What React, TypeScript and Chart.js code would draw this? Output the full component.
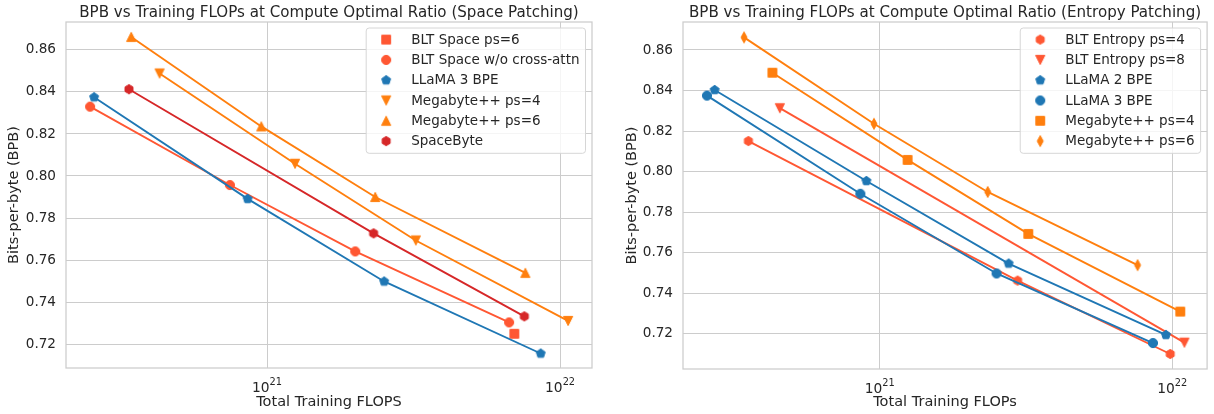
import React, { useEffect, useRef } from 'react';
import { Chart, registerables } from 'chart.js';

Chart.register(...registerables);

// ---------- data ----------
// Left panel: Space patching
const BLT_SPACE_PS6_X = [6.98e21];
const BLT_SPACE_PS6_Y = [0.7249];
const BLT_SPACE_NOCA_X = [2.49e20, 7.47e20, 2.0e21, 6.7e21];
const BLT_SPACE_NOCA_Y = [0.833, 0.7957, 0.7641, 0.7303];
const LLAMA3_X = [2.57e20, 8.59e20, 2.51e21, 8.59e21];
const LLAMA3_Y = [0.8375, 0.7891, 0.7498, 0.7155];
const MEGA_PS4_X = [4.3e20, 1.246e21, 3.22e21, 1.065e22];
const MEGA_PS4_Y = [0.8488, 0.8058, 0.7693, 0.731];
const MEGA_PS6_X = [3.44e20, 9.56e20, 2.34e21, 7.61e21];
const MEGA_PS6_Y = [0.8662, 0.8236, 0.79, 0.7539];
const SPACEBYTE_X = [3.38e20, 2.31e21, 7.55e21];
const SPACEBYTE_Y = [0.8413, 0.7727, 0.7332];

// Right panel: Entropy patching
const BLT_ENT_PS4_X = [3.56e20, 2.96e21, 9.84e21];
const BLT_ENT_PS4_Y = [0.8151, 0.7463, 0.7101];
const BLT_ENT_PS8_X = [4.56e20, 1.1e22];
const BLT_ENT_PS8_Y = [0.8313, 0.7157];
const LLAMA2_X = [2.73e20, 9.01e20, 2.76e21, 9.51e21];
const LLAMA2_Y = [0.8403, 0.7954, 0.7547, 0.7195];

// ticks
const X_TICKS = [1e21, 1e22];
const X_TICK_BASE = ['10', '10'];
const X_TICK_EXP = ['21', '22'];
const Y_TICKS = [0.72, 0.74, 0.76, 0.78, 0.8, 0.82, 0.84, 0.86];

// axis ranges
const LEFT_X_RANGE = [2.061e20, 1.285e22];
const LEFT_Y_RANGE = [0.7086, 0.8733];
const RIGHT_X_RANGE = [2.128e20, 1.315e22];
const RIGHT_Y_RANGE = [0.7027, 0.8738];

const LEFT_TITLE = 'BPB vs Training FLOPs at Compute Optimal Ratio (Space Patching)';
const RIGHT_TITLE = 'BPB vs Training FLOPs at Compute Optimal Ratio (Entropy Patching)';
const LEFT_XLABEL = 'Total Training FLOPS';
const RIGHT_XLABEL = 'Total Training FLOPs';
const YLABEL = 'Bits-per-byte (BPB)';

// ---------- styles ----------
const C_BLT = '#ff5733';
const C_LLAMA = '#1f77b4';
const C_MEGA = '#ff7f0e';
const C_SPACEBYTE = '#d62728';
const TEXT = '#262626';
const GRID = '#cccccc';
const FONT = '"DejaVu Sans", "Liberation Sans", sans-serif';

function makeMarker(shape: string, color: string): HTMLCanvasElement {
  const S = 18;
  const c = document.createElement('canvas');
  c.width = S;
  c.height = S;
  const ctx = c.getContext('2d')!;
  ctx.translate(S / 2, S / 2);
  ctx.fillStyle = color;
  ctx.strokeStyle = color;
  ctx.lineWidth = 1;
  const r = 4.6;
  ctx.beginPath();
  const poly = (n: number, rad: number) => {
    for (let k = 0; k < n; k++) {
      const a = -Math.PI / 2 + (k * 2 * Math.PI) / n;
      const px = rad * Math.cos(a);
      const py = rad * Math.sin(a);
      if (k === 0) ctx.moveTo(px, py);
      else ctx.lineTo(px, py);
    }
    ctx.closePath();
  };
  switch (shape) {
    case 'circle':
      ctx.arc(0, 0, r, 0, Math.PI * 2);
      break;
    case 'square':
      ctx.rect(-r + 0.2, -r + 0.2, 2 * r - 0.4, 2 * r - 0.4);
      break;
    case 'triUp':
      ctx.moveTo(0, -r);
      ctx.lineTo(r, r);
      ctx.lineTo(-r, r);
      ctx.closePath();
      break;
    case 'triDown':
      ctx.moveTo(0, r);
      ctx.lineTo(r, -r);
      ctx.lineTo(-r, -r);
      ctx.closePath();
      break;
    case 'pentagon':
      poly(5, r + 0.1);
      break;
    case 'hexagon':
      poly(6, r);
      break;
    case 'thinDiamond':
      ctx.moveTo(0, -5.5);
      ctx.lineTo(3.0, 0);
      ctx.lineTo(0, 5.5);
      ctx.lineTo(-3.0, 0);
      ctx.closePath();
      break;
  }
  ctx.fill();
  ctx.stroke();
  return c;
}

const pts = (xs: number[], ys: number[]) => xs.map((x, i) => ({ x, y: ys[i] }));

function series(label: string, xs: number[], ys: number[], color: string, shape: string, i: number) {
  return {
    label,
    data: pts(xs, ys),
    showLine: true,
    borderColor: color,
    backgroundColor: color,
    borderWidth: 1.9,
    pointStyle: makeMarker(shape, color),
    pointRadius: 5,
    pointHoverRadius: 5,
    order: -i,
    clip: false as any,
  };
}

function buildConfig(opts: {
  title: string;
  xLabel: string;
  datasets: any[];
  xRange: number[];
  yRange: number[];
  yAxisWidth: number;
  xAxisHeight: number;
  padRight: number;
  yTitlePad: number;
}) {
  const framePlugin = {
    id: 'frame',
    beforeDatasetsDraw(chart: any) {
      const { ctx, chartArea: a } = chart;
      ctx.save();
      ctx.strokeStyle = GRID;
      ctx.lineWidth = 1.25;
      ctx.strokeRect(a.left, a.top, a.right - a.left, a.bottom - a.top);
      ctx.restore();
    },
  };
  const textPlugin = {
    id: 'texts',
    afterDraw(chart: any) {
      const { ctx, chartArea: a } = chart;
      ctx.save();
      // title
      ctx.font = `15.1px ${FONT}`;
      ctx.fillStyle = TEXT;
      ctx.textAlign = 'center';
      ctx.textBaseline = 'alphabetic';
      ctx.fillText(opts.title, (a.left + a.right) / 2, 17);
      // x tick labels with superscript exponent
      const xs = chart.scales.x;
      ctx.textAlign = 'left';
      X_TICKS.forEach((v, i) => {
        const px = xs.getPixelForValue(v);
        ctx.font = `13.8px ${FONT}`;
        const wb = ctx.measureText(X_TICK_BASE[i]).width;
        ctx.font = `9.8px ${FONT}`;
        const we = ctx.measureText(X_TICK_EXP[i]).width;
        const x0 = px - (wb + we) / 2;
        ctx.font = `13.8px ${FONT}`;
        ctx.fillText(X_TICK_BASE[i], x0, a.bottom + 23.5);
        ctx.font = `9.8px ${FONT}`;
        ctx.fillText(X_TICK_EXP[i], x0 + wb, a.bottom + 17);
      });
      ctx.restore();
    },
  };
  const legendPlugin = {
    id: 'lgd',
    afterDatasetsDraw(chart: any) {
      const { ctx, chartArea: a } = chart;
      const items = chart.data.datasets;
      ctx.save();
      ctx.font = `13.5px ${FONT}`;
      const maxW = Math.max(...items.map((d: any) => ctx.measureText(d.label).width));
      const rowH = 20.3;
      const w = 45 + maxW + 6;
      const h = 11.6 + rowH * (items.length - 1) + 12.2;
      const x = a.right - 6.5 - w;
      const y = a.top + 6;
      ctx.beginPath();
      (ctx as any).roundRect(x, y, w, h, 3);
      ctx.fillStyle = 'rgba(255,255,255,0.8)';
      ctx.fill();
      ctx.strokeStyle = '#d6d6d6';
      ctx.lineWidth = 1;
      ctx.stroke();
      ctx.fillStyle = TEXT;
      ctx.textAlign = 'left';
      ctx.textBaseline = 'middle';
      items.forEach((d: any, i: number) => {
        const cy = y + 11.6 + i * rowH;
        const m = d.pointStyle as HTMLCanvasElement;
        ctx.drawImage(m, x + 20 - m.width / 2, cy - m.height / 2);
        ctx.fillText(d.label, x + 45, cy + 0.5);
      });
      ctx.restore();
    },
  };

  return {
    type: 'scatter' as const,
    data: { datasets: opts.datasets },
    plugins: [framePlugin, legendPlugin, textPlugin],
    options: {
      animation: false as const,
      responsive: false,
      devicePixelRatio: 1,
      events: [],
      layout: { padding: { left: 0, top: 22, right: opts.padRight, bottom: 0 } },
      plugins: { legend: { display: false }, tooltip: { enabled: false }, title: { display: false } },
      scales: {
        x: {
          type: 'logarithmic' as const,
          min: opts.xRange[0],
          max: opts.xRange[1],
          bounds: 'data' as const,
          afterBuildTicks: (s: any) => {
            s.ticks = X_TICKS.map((v) => ({ value: v }));
          },
          afterFit: (s: any) => {
            s.height = opts.xAxisHeight;
          },
          ticks: {
            autoSkip: false,
            maxRotation: 0,
            padding: 10,
            color: TEXT,
            font: { family: FONT, size: 13.3 },
            callback: () => '',
          },
          grid: { color: GRID, lineWidth: 1, drawTicks: false },
          border: { display: false },
          title: {
            display: true,
            text: opts.xLabel,
            color: TEXT,
            font: { family: FONT, size: 14.5 },
            padding: { top: 0, bottom: 3 },
          },
        },
        y: {
          type: 'linear' as const,
          min: opts.yRange[0],
          max: opts.yRange[1],
          bounds: 'data' as const,
          afterBuildTicks: (s: any) => {
            s.ticks = Y_TICKS.map((v) => ({ value: v }));
          },
          afterFit: (s: any) => {
            s.width = opts.yAxisWidth;
          },
          ticks: {
            padding: 10,
            color: TEXT,
            font: { family: FONT, size: 13.6 },
            callback: (v: any) => Number(v).toFixed(2),
          },
          grid: { color: GRID, lineWidth: 1, drawTicks: false },
          border: { display: false },
          title: {
            display: true,
            text: YLABEL,
            color: TEXT,
            font: { family: FONT, size: 14.5 },
            padding: { top: opts.yTitlePad, bottom: 0 },
          },
        },
      },
    },
  };
}

export default function App() {
  const leftRef = useRef<HTMLCanvasElement>(null);
  const rightRef = useRef<HTMLCanvasElement>(null);

  useEffect(() => {
    const leftDatasets = [
      series('BLT Space ps=6', BLT_SPACE_PS6_X, BLT_SPACE_PS6_Y, C_BLT, 'square', 0),
      series('BLT Space w/o cross-attn', BLT_SPACE_NOCA_X, BLT_SPACE_NOCA_Y, C_BLT, 'circle', 1),
      series('LLaMA 3 BPE', LLAMA3_X, LLAMA3_Y, C_LLAMA, 'pentagon', 2),
      series('Megabyte++ ps=4', MEGA_PS4_X, MEGA_PS4_Y, C_MEGA, 'triDown', 3),
      series('Megabyte++ ps=6', MEGA_PS6_X, MEGA_PS6_Y, C_MEGA, 'triUp', 4),
      series('SpaceByte', SPACEBYTE_X, SPACEBYTE_Y, C_SPACEBYTE, 'hexagon', 5),
    ];
    const rightDatasets = [
      series('BLT Entropy ps=4', BLT_ENT_PS4_X, BLT_ENT_PS4_Y, C_BLT, 'hexagon', 0),
      series('BLT Entropy ps=8', BLT_ENT_PS8_X, BLT_ENT_PS8_Y, C_BLT, 'triDown', 1),
      series('LLaMA 2 BPE', LLAMA2_X, LLAMA2_Y, C_LLAMA, 'pentagon', 2),
      series('LLaMA 3 BPE', LLAMA3_X, LLAMA3_Y, C_LLAMA, 'circle', 3),
      series('Megabyte++ ps=4', MEGA_PS4_X, MEGA_PS4_Y, C_MEGA, 'square', 4),
      series('Megabyte++ ps=6', MEGA_PS6_X, MEGA_PS6_Y, C_MEGA, 'thinDiamond', 5),
    ];
    const left = new Chart(
      leftRef.current!,
      buildConfig({
        title: LEFT_TITLE,
        xLabel: LEFT_XLABEL,
        datasets: leftDatasets,
        xRange: LEFT_X_RANGE,
        yRange: LEFT_Y_RANGE,
        yAxisWidth: 66,
        xAxisHeight: 46,
        padRight: 15,
        yTitlePad: 6,
      }) as any
    );
    const right = new Chart(
      rightRef.current!,
      buildConfig({
        title: RIGHT_TITLE,
        xLabel: RIGHT_XLABEL,
        datasets: rightDatasets,
        xRange: RIGHT_X_RANGE,
        yRange: RIGHT_Y_RANGE,
        yAxisWidth: 76,
        xAxisHeight: 45,
        padRight: 6,
        yTitlePad: 16.5,
      }) as any
    );
    return () => {
      left.destroy();
      right.destroy();
    };
  }, []);

  return (
    <div style={{ position: 'fixed', left: 0, top: 0, width: 1214, height: 414, background: '#fff' }}>
      <canvas ref={leftRef} width={607} height={414} style={{ position: 'absolute', left: 0, top: 0 }} />
      <canvas ref={rightRef} width={607} height={414} style={{ position: 'absolute', left: 607, top: 0 }} />
    </div>
  );
}
